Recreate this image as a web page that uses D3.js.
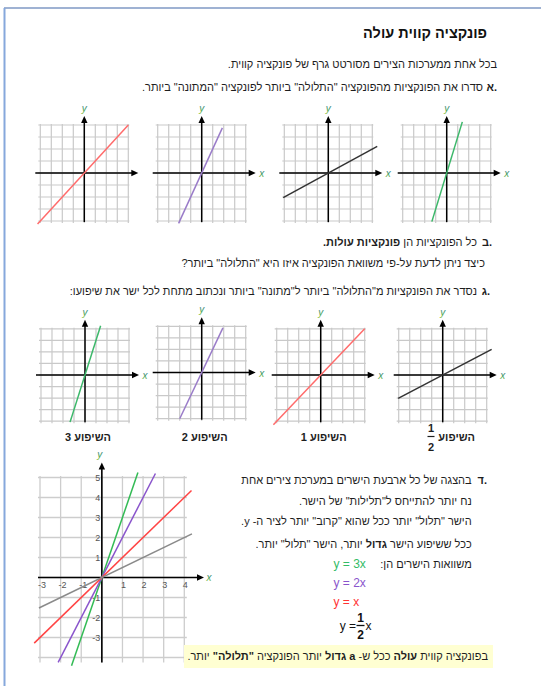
<!DOCTYPE html>
<html><head><meta charset="utf-8">
<script src="https://cdn.jsdelivr.net/npm/d3@7"></script>
<style>
body{margin:0;background:#fff}
svg{display:block;font-family:"Liberation Sans",Arial,sans-serif}
</style>
</head><body><script>
// Section א: the four lines in mixed order (left to right)
const mixedSlopes = [1, 2, 0.5, 3];
const mixedColors = ["#ff6b6b", "#9a7cc9", "#333333", "#3cb86a"];
const mixedXRanges = [[-4.25, 4], [-2.1, 1.88], [-4.1, 4.45], [-1.35, 1.42]];
const mixedHasXLabel = [false, true, true, true];

// Section ג: steepest to gentlest, each with its slope caption
const orderedSlopes = [3, 2, 1, 0.5];
const orderedColors = ["#3cb86a", "#9a7cc9", "#ff6b6b", "#333333"];
const orderedXRanges = [[-1.36, 1.42], [-2.0, 1.93], [-4.3, 4], [-4.05, 4.45]];
const slopeCaptions = ["3", "2", "1", "1/2"];

// Section ד: all four lines on one set of axes
const combinedSlopes = [3, 2, 1, 0.5];
const combinedColors = ["#33bb55", "#8a55cc", "#ff4444", "#8a8a8a"];
const combinedXRanges = [[-1.47, 1.75], [-2.12, 2.6], [-3.28, 4.35], [-3.05, 4.37]];
const xTickValues = [-3, -2, -1, 1, 2, 3, 4];
const yTickValues = [5, 4, 3, 2, 1, -1, -2, -3];
const equationCoefs = ["3", "2", "", "1/2"];

const W = 541, H = 686;
const svg = d3.select("body").append("svg").attr("width", W).attr("height", H);

// gradient used for the small axis letters
const defs = svg.append("defs");
const grad = defs.append("linearGradient").attr("id", "axisLetter").attr("x1", 0).attr("y1", 0).attr("x2", 0).attr("y2", 1);
grad.append("stop").attr("offset", "0%").attr("stop-color", "#5a78b8");
grad.append("stop").attr("offset", "55%").attr("stop-color", "#3a9a5a");
grad.append("stop").attr("offset", "100%").attr("stop-color", "#8cc040");

// page frame
svg.append("line").attr("x1", 4).attr("x2", W).attr("y1", 8).attr("y2", 8)
  .attr("stroke", "#7f98c4").attr("stroke-width", 1.6);
svg.append("line").attr("x1", 4.5).attr("x2", 4.5).attr("y1", 8).attr("y2", H)
  .attr("stroke", "#86a8dc").attr("stroke-width", 2);

const TXT = "#1e1e1e";
const BODY = 11;

function rtlLine(xRight, yBase, parts, size) {
  const t = svg.append("text").attr("x", xRight).attr("y", yBase)
    .attr("direction", "rtl").style("direction", "rtl").style("unicode-bidi", "embed")
    .attr("text-anchor", "start").attr("fill", TXT).style("font-size", (size || BODY) + "px");
  parts.forEach(p => {
    const s = typeof p === "string" ? { t: p } : p;
    const ts = t.append("tspan").text(s.t);
    if (s.b) ts.attr("font-weight", "bold");
  });
  return t;
}
// list marker: Hebrew letter with the dot drawn to its right
function listMark(xRight, yBase, letter) {
  svg.append("text").attr("x", xRight).attr("y", yBase).attr("text-anchor", "end")
    .attr("font-weight", "bold").attr("fill", TXT).style("font-size", BODY + "px").text(".");
  svg.append("text").attr("x", xRight - 3).attr("y", yBase).attr("text-anchor", "end")
    .attr("font-weight", "bold").attr("fill", TXT).style("font-size", BODY + "px").text(letter);
}
function axisLetter(x, y, s) {
  svg.append("text").attr("x", x).attr("y", y).attr("text-anchor", "middle")
    .attr("fill", "url(#axisLetter)").style("font-size", "10px").style("font-style", "italic")
    .text(s);
}
function arrowRight(g, x, y) {
  g.append("path").attr("d", `M${x},${y}L${x - 7},${y - 3.2}L${x - 7},${y + 3.2}Z`).attr("fill", "#000");
}
function arrowUp(g, x, y) {
  g.append("path").attr("d", `M${x},${y}L${x - 3.2},${y + 7}L${x + 3.2},${y + 7}Z`).attr("fill", "#000");
}

// small 8x8 grid with a single line through the origin
function miniGraph(cx, cy, cw, ch, slope, color, xr, withX) {
  const x = d3.scaleLinear().domain([-4, 4]).range([cx - 4 * cw, cx + 4 * cw]);
  const y = d3.scaleLinear().domain([-4, 4]).range([cy + 4 * ch, cy - 4 * ch]);
  const g = svg.append("g");
  const ticks = d3.range(-4, 5);
  g.selectAll("line.v").data(ticks).join("line").attr("class", "v")
    .attr("x1", d => x(d)).attr("x2", d => x(d)).attr("y1", y(4) - 1).attr("y2", y(-4) + 2)
    .attr("stroke", "#c9c9c9").attr("stroke-width", 1.2);
  g.selectAll("line.h").data(ticks).join("line").attr("class", "h")
    .attr("y1", d => y(d)).attr("y2", d => y(d)).attr("x1", x(-4) - 2).attr("x2", x(4) + 1)
    .attr("stroke", "#c9c9c9").attr("stroke-width", 1.2);
  g.append("line").attr("x1", x(-4) - 5).attr("x2", x(4) + 4).attr("y1", y(0)).attr("y2", y(0))
    .attr("stroke", "#000").attr("stroke-width", 1.5);
  arrowRight(g, x(4) + 10, y(0));
  g.append("line").attr("x1", x(0)).attr("x2", x(0)).attr("y1", y(-4) + 1).attr("y2", y(4) - 3)
    .attr("stroke", "#000").attr("stroke-width", 1.5);
  arrowUp(g, x(0), y(4) - 9);
  g.append("path").datum(xr)
    .attr("d", d3.line().x(d => x(d)).y(d => y(slope * d)))
    .attr("stroke", color).attr("stroke-width", 1.5).attr("fill", "none");
  axisLetter(x(0), y(4) - 13, "y");
  if (withX) axisLetter(x(4) + 16, y(0) + 4, "x");
  return { x, y };
}

// ---------- title and section א ----------
svg.append("text").attr("x", 487).attr("y", 38).attr("direction", "rtl").style("direction", "rtl")
  .attr("text-anchor", "start").attr("font-weight", "bold").attr("fill", "#111")
  .style("font-size", "14.5px").text("פונקציה קווית עולה");

rtlLine(497, 67.5, ["בכל אחת ממערכות הצירים מסורטט גרף של פונקציה קווית."]);
listMark(497, 91, "א");
rtlLine(483, 91, ["סדרו את הפונקציות מהפונקציה \"התלולה\" ביותר לפונקציה \"המתונה\" ביותר."]);

const mixedCenters = [[84.3, 173], [201.7, 173], [328.3, 173], [446.7, 173]];
mixedSlopes.forEach((s, i) => {
  miniGraph(mixedCenters[i][0], mixedCenters[i][1], 11, 12, s, mixedColors[i], mixedXRanges[i], mixedHasXLabel[i]);
});

// ---------- section ב ----------
listMark(492, 245.5, "ב");
rtlLine(477, 245.5, ["כל הפונקציות הן ", { t: "פונקציות עולות.", b: true }]);
rtlLine(485, 266.5, ["כיצד ניתן לדעת על-פי משוואת הפונקציה איזו היא \"התלולה\" ביותר?"]);

// ---------- section ג ----------
listMark(490, 294.5, "ג");
rtlLine(477, 294.5, ["נסדר את הפונקציות מ\"התלולה\" ביותר ל\"מתונה\" ביותר ונכתוב מתחת לכל ישר את שיפועו:"]);

const orderedCenters = [[85, 375], [201.7, 372.5], [320.7, 375], [442.7, 375]];
orderedSlopes.forEach((s, i) => {
  const [cx, cy] = orderedCenters[i];
  miniGraph(cx, cy, 11, 11.55, s, orderedColors[i], orderedXRanges[i], true);
  const cap = slopeCaptions[i];
  if (cap.includes("/")) {
    const [num, den] = cap.split("/");
    rtlLine(475, 441, [{ t: "השיפוע", b: true }], 11);
    svg.append("text").attr("x", 431).attr("y", 432).attr("text-anchor", "middle").attr("font-weight", "bold")
      .attr("fill", TXT).style("font-size", "11px").text(num);
    svg.append("line").attr("x1", 427.5).attr("x2", 434.5).attr("y1", 436.5).attr("y2", 436.5)
      .attr("stroke", TXT).attr("stroke-width", 1.2);
    svg.append("text").attr("x", 431).attr("y", 451).attr("text-anchor", "middle").attr("font-weight", "bold")
      .attr("fill", TXT).style("font-size", "11px").text(den);
  } else {
    svg.append("text").attr("x", cx + 3).attr("y", 441).attr("text-anchor", "middle")
      .attr("direction", "rtl").style("direction", "rtl").attr("font-weight", "bold")
      .attr("fill", TXT).style("font-size", "11px").text("השיפוע " + cap);
  }
});

// ---------- section ד: combined chart ----------
const bx = d3.scaleLinear().domain([-3, 4]).range([40, 184.3]);
const by = d3.scaleLinear().domain([-4, 5]).range([657.5, 477.5]);
const big = svg.append("g");
const gx = d3.range(-3, 5), gy = d3.range(-4, 6);
big.selectAll("line.v").data(gx).join("line").attr("class", "v")
  .attr("x1", d => bx(d)).attr("x2", d => bx(d)).attr("y1", by(5) - 1.5).attr("y2", by(-4) + 5)
  .attr("stroke", "#cdcdcd").attr("stroke-width", 1.3);
big.selectAll("line.h").data(gy).join("line").attr("class", "h")
  .attr("y1", d => by(d)).attr("y2", d => by(d)).attr("x1", bx(-3) - 2).attr("x2", bx(4) + 2.5)
  .attr("stroke", "#cdcdcd").attr("stroke-width", 1.3);

big.selectAll("text.xt").data(xTickValues).join("text").attr("class", "xt")
  .attr("x", d => bx(d) + (d < 0 ? 2 : 1)).attr("y", by(0) + 10.5).attr("text-anchor", "middle")
  .attr("fill", "#555").style("font-size", "9px").text(d => d);
big.selectAll("text.yt").data(yTickValues).join("text").attr("class", "yt")
  .attr("x", bx(0) - 1.5).attr("y", d => by(d) + 3).attr("text-anchor", "end")
  .attr("fill", "#555").style("font-size", "9px").text(d => d);

big.append("line").attr("x1", bx(-3) - 2).attr("x2", 197).attr("y1", by(0)).attr("y2", by(0))
  .attr("stroke", "#000").attr("stroke-width", 1.6);
arrowRight(big, 204, by(0));
big.append("line").attr("x1", bx(0)).attr("x2", bx(0)).attr("y1", by(-4) + 5).attr("y2", 469)
  .attr("stroke", "#000").attr("stroke-width", 1.6);
arrowUp(big, bx(0), 462.5);

combinedSlopes.forEach((s, i) => {
  big.append("path").datum(combinedXRanges[i])
    .attr("d", d3.line().x(d => bx(d)).y(d => by(s * d)))
    .attr("stroke", combinedColors[i]).attr("stroke-width", 1.5).attr("fill", "none");
});
axisLetter(bx(0) - 2, 458, "y");
axisLetter(209, by(0) + 3, "x");

// text beside the combined chart
listMark(487, 483.5, "ד");
rtlLine(471.7, 483.5, ["בהצגה של כל ארבעת הישרים במערכת צירים אחת"]);
rtlLine(471.7, 505, ["נח יותר להתייחס ל\"תלילות\" של הישר."]);
rtlLine(471.7, 525, ["הישר \"תלול\" יותר ככל שהוא \"קרוב\" יותר לציר ה- y."]);
rtlLine(471.7, 547.5, ["ככל ששיפוע הישר ", { t: "גדול", b: true }, " יותר, הישר \"תלול\" יותר."]);
rtlLine(471.7, 567.5, ["משוואות הישרים הן:"]);

const eqColors = ["#33bb66", "#8a55cc", "#ff3333", "#111111"];
const eqY = [568, 587.3, 606.3, 630];
equationCoefs.forEach((c, i) => {
  if (c.includes("/")) {
    const [num, den] = c.split("/");
    svg.append("text").attr("x", 356).attr("y", eqY[i]).attr("text-anchor", "end")
      .attr("fill", eqColors[i]).style("font-size", "12px").text("y =");
    svg.append("text").attr("x", 360.5).attr("y", eqY[i] - 8).attr("text-anchor", "middle").attr("font-weight", "bold")
      .attr("fill", eqColors[i]).style("font-size", "12px").text(num);
    svg.append("line").attr("x1", 356.5).attr("x2", 364.5).attr("y1", eqY[i] - 4.5).attr("y2", eqY[i] - 4.5)
      .attr("stroke", eqColors[i]).attr("stroke-width", 1.3);
    svg.append("text").attr("x", 360.5).attr("y", eqY[i] + 9).attr("text-anchor", "middle").attr("font-weight", "bold")
      .attr("fill", eqColors[i]).style("font-size", "12px").text(den);
    svg.append("text").attr("x", 365.5).attr("y", eqY[i]).attr("fill", eqColors[i]).style("font-size", "12px").text("x");
  } else {
    svg.append("text").attr("x", 333.5).attr("y", eqY[i]).attr("fill", eqColors[i])
      .style("font-size", "12px").text("y = " + c + "x");
  }
});

// summary box
svg.append("rect").attr("x", 184).attr("y", 645).attr("width", 309).attr("height", 23).attr("fill", "#ffffd2");
rtlLine(488, 659.5, ["בפונקציה קווית ", { t: "עולה", b: true }, " ככל ש- ", { t: "a", b: true }, " ", { t: "גדול", b: true },
  " יותר הפונקציה ", { t: "\"תלולה\"", b: true }, " יותר."]);
</script></body></html>
